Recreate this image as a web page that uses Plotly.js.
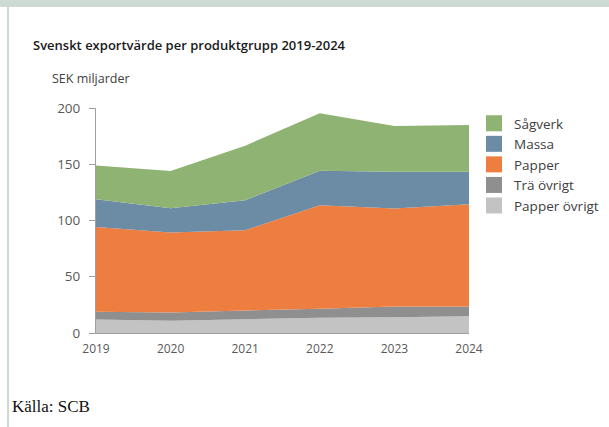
<!DOCTYPE html>
<html>
<head>
<meta charset="utf-8">
<script src="https://cdn.plot.ly/plotly-3.0.1.min.js"></script>
<style>
  html, body { margin: 0; padding: 0; background: #ffffff; }
  #wrap { position: relative; width: 609px; height: 427px; overflow: hidden; }
  #chart { position: absolute; left: 0; top: 0; width: 609px; height: 427px; }
  #topband { position: absolute; left: 0; top: 0; width: 609px; height: 7px; background: #cedbd4; pointer-events: none; }
  #leftbar { position: absolute; left: 7px; top: 7px; width: 2px; height: 420px; background: #cedbd4; pointer-events: none; }
</style>
</head>
<body>
<div id="wrap">
  <div id="chart"></div>
  <div id="topband"></div>
  <div id="leftbar"></div>
</div>
<script>
// Data (SEK miljarder)
var years = [2019, 2020, 2021, 2022, 2023, 2024];
var papperOvrigt = [12.0, 11.0, 12.3, 13.5, 14.1, 14.8];
var traOvrigt    = [7.0, 7.3, 7.7, 8.1, 9.5, 8.8];
var papper       = [75.3, 71.0, 71.4, 92.0, 87.1, 90.9];
var massa        = [24.7, 21.7, 26.6, 30.6, 32.6, 28.8];
var sagverk      = [30.0, 33.0, 48.5, 51.2, 40.7, 41.7];

var seriesNames  = ["Papper övrigt", "Trä övrigt", "Papper", "Massa", "Sågverk"];
var seriesValues = [papperOvrigt, traOvrigt, papper, massa, sagverk];
var seriesColors = ["#c3c3c3", "#8f8f8f", "#ee7d40", "#6c8ba4", "#8fb372"];

var traces = [];
for (var i = 0; i < seriesNames.length; i++) {
  traces.push({
    type: "scatter",
    mode: "none",
    x: years,
    y: seriesValues[i],
    stackgroup: "one",
    fillcolor: seriesColors[i],
    name: seriesNames[i],
    legendgroup: seriesNames[i],
    showlegend: false,
    hoverinfo: "x+y+name"
  });
}
// legend entries (top to bottom), square swatches
for (var j = seriesNames.length - 1; j >= 0; j--) {
  traces.push({
    type: "scatter",
    mode: "markers",
    x: [null],
    y: [null],
    name: seriesNames[j],
    legendgroup: seriesNames[j],
    marker: { symbol: "square", size: 16, color: seriesColors[j] },
    showlegend: true,
    hoverinfo: "skip"
  });
}

var layout = {
  width: 609,
  height: 427,
  paper_bgcolor: "#ffffff",
  plot_bgcolor: "#ffffff",
  margin: { l: 96, r: 140, t: 108, b: 94, autoexpand: false },
  font: { family: "Open Sans, sans-serif", color: "#595959", size: 11 },
  title: {
    text: "Svenskt exportvärde per produktgrupp 2019-2024",
    font: { family: "Open Sans, sans-serif", size: 13, color: "#1a1a1a", weight: 600 },
    x: 33 / 609, xanchor: "left",
    y: 1 - 45 / 427, yanchor: "middle"
  },
  xaxis: {
    range: [2019, 2024],
    tickvals: years,
    ticktext: years.map(String),
    showgrid: false,
    zeroline: false,
    showline: true,
    linecolor: "#a0a0a0",
    linewidth: 1,
    ticks: "",
    ticklabelstandoff: 5,
    tickfont: { size: 12, color: "#595959" },
    automargin: false,
    fixedrange: true
  },
  yaxis: {
    range: [0, 200],
    tickvals: [0, 50, 100, 150, 200],
    showgrid: false,
    zeroline: false,
    showline: true,
    linecolor: "#a0a0a0",
    linewidth: 1,
    ticks: "outside",
    ticklen: 6,
    tickcolor: "#a0a0a0",
    ticklabelstandoff: 6,
    tickfont: { size: 13.5, color: "#595959" },
    automargin: false,
    fixedrange: true
  },
  legend: {
    xref: "container", yref: "container",
    x: 474 / 609, xanchor: "left",
    y: 1 - 108 / 427, yanchor: "top",
    font: { size: 13.5, color: "#404040" },
    bgcolor: "rgba(0,0,0,0)",
    tracegroupgap: 0,
    itemwidth: 30
  },
  annotations: [
    {
      text: "SEK miljarder",
      xref: "paper", yref: "paper",
      x: (50 - 96) / 373, xanchor: "left",
      y: (333 - 78) / 225, yanchor: "middle",
      showarrow: false,
      font: { size: 12.5, color: "#404040" }
    },
    {
      text: "Källa: SCB",
      xref: "paper", yref: "paper",
      x: (10 - 96) / 373, xanchor: "left",
      y: (333 - 406) / 225, yanchor: "middle",
      showarrow: false,
      font: { family: "Liberation Serif, serif", size: 17, color: "#111111" }
    }
  ],
  showlegend: true
};

Plotly.newPlot("chart", traces, layout, { displayModeBar: false, staticPlot: true });
</script>
</body>
</html>
